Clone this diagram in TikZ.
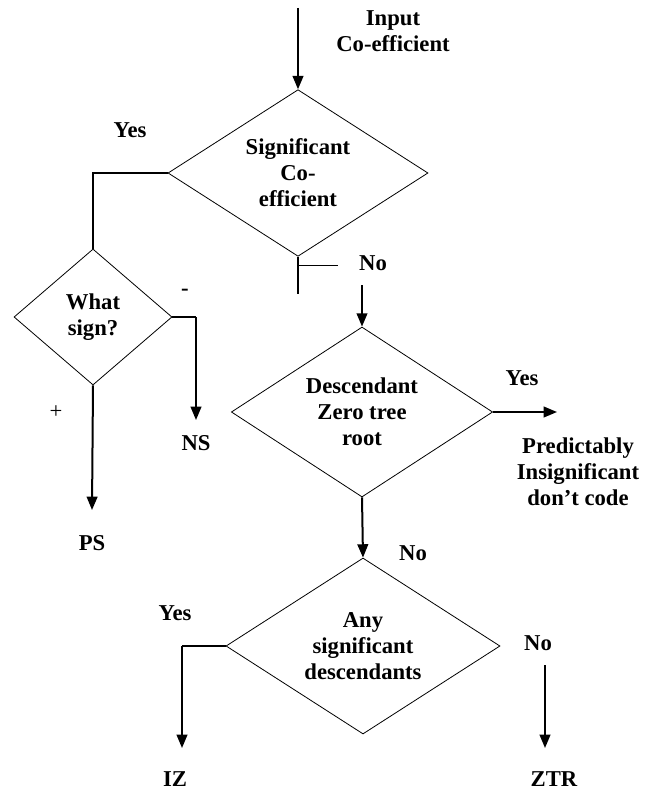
\documentclass[tikz,border=0pt]{standalone}
\usepackage{fontspec}
\setmainfont{Liberation Serif}
\usetikzlibrary{arrows.meta,shapes.geometric}
\tikzset{
    %Define standard arrow tip
    >={Triangle[length=10pt,width=8pt]},
    %Define style for diamonds
    decision/.style={
           diamond,
           draw=black, line width=0.6pt,
           shape aspect=1.5,
           inner sep=0pt,
           align=center,
           font=\fontsize{17}{19.5}\selectfont\bfseries},
    lbl/.style={
           inner sep=0pt,
           align=center,
           font=\fontsize{17}{19.5}\selectfont\bfseries},
    % Define arrow style
    pil/.style={
           ->,
           line width=1.5pt},
    wire/.style={
           line width=0.9pt}
}

\begin{document}
\begin{tikzpicture}[x=0.75pt,y=-0.75pt]
\useasboundingbox (0,0) rectangle (651,792);
 %nodes
\node[decision, minimum width=195pt, minimum height=125pt] (1) at (298,173) {Significant\\Co-\\efficient};
\node[decision, minimum width=118.5pt, minimum height=102pt] (2) at (93,317) {What\\sign?};
\node[decision, minimum width=196pt, minimum height=127.5pt] (3) at (362,412) {Descendant\\Zero tree\\root};
\node[decision, minimum width=205.5pt, minimum height=132pt] (4) at (363,646) {Any\\significant\\descendants};
 %labels
\node[lbl] (5) at (393,31) {Input\\Co-efficient};
\node[lbl] (6) at (130,130) {Yes};
\node[lbl] (7) at (373,263) {No};
\node[lbl] (8) at (185,292) {-};
\node[lbl, font=\fontsize{17}{19.5}\selectfont] (9) at (56,412) {+};
\node[lbl] (10) at (196,443) {NS};
\node[lbl] (11) at (92,543) {PS};
\node[lbl] (12) at (522,378) {Yes};
\node[lbl] (13) at (578,472) {Predictably\\Insignificant\\don’t code};
\node[lbl] (14) at (413,553) {No};
\node[lbl] (15) at (175,613) {Yes};
\node[lbl] (16) at (538,643) {No};
\node[lbl] (17) at (175,779) {IZ};
\node[lbl] (18) at (554,779) {ZTR};
 %free ends
\coordinate (a) at (298,8);
\coordinate (b) at (196,317);
\coordinate (c) at (196,420);
\coordinate (d) at (92,510);
\coordinate (e) at (362,285);
\coordinate (f) at (557,412);
\coordinate (g) at (182,646);
\coordinate (h) at (182,748);
\coordinate (i) at (545,665);
\coordinate (j) at (545,748);
 %connectors
\draw[wire] (1.west) -| (2.north);
\draw[wire] (1.south) -- ++(0,37) (1.south) ++(0,9) -- ++(40,0);
\draw[wire] (2.east) -- (b);
\draw[wire] (4.west) -- (g);
\path[pil]
    (a) edge (1.north)
    (b) edge (c)
    (2.south) edge (d)
    (e) edge (3.north)
    (3.east) edge (f)
    (3.south) edge (4.north)
    (g) edge (h)
    (i) edge (j);
\end{tikzpicture}
\end{document}
